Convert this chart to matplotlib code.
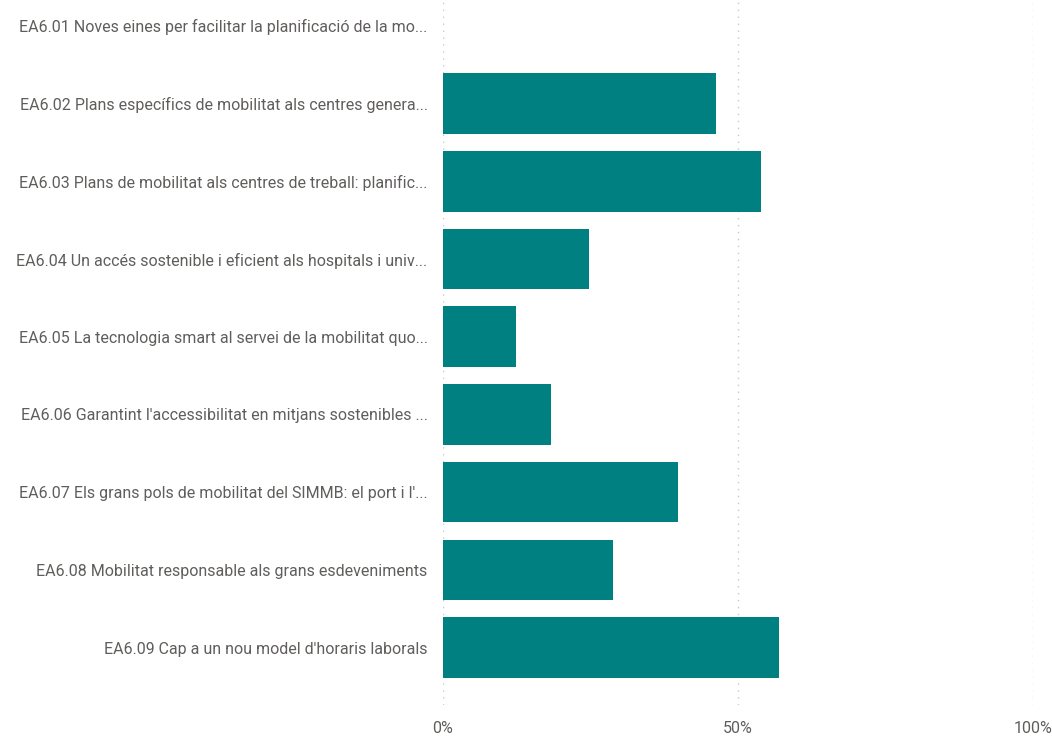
import matplotlib.pyplot as plt
from matplotlib.ticker import FuncFormatter

# Dades
etiquetes = [
    "EA6.01 Noves eines per facilitar la planificació de la mo...",
    "EA6.02 Plans específics de mobilitat als centres genera...",
    "EA6.03 Plans de mobilitat als centres de treball: planific...",
    "EA6.04 Un accés sostenible i eficient als hospitals i univ...",
    "EA6.05 La tecnologia smart al servei de la mobilitat quo...",
    "EA6.06 Garantint l'accessibilitat en mitjans sostenibles ...",
    "EA6.07 Els grans pols de mobilitat del SIMMB: el port i l'...",
    "EA6.08 Mobilitat responsable als grans esdeveniments",
    "EA6.09 Cap a un nou model d'horaris laborals",
]
valors = [0.0, 46.2, 53.9, 24.7, 12.4, 18.4, 39.8, 28.9, 56.9]
xticks = [0, 50, 100]

color_barra = "#008080"
color_text = "#605E5C"

plt.rcParams['font.family'] = ['Roboto', 'DejaVu Sans']

fig = plt.figure(figsize=(10.52, 7.38), dpi=100)
ax = fig.add_axes([0.421, 0.045, 0.561, 0.955])

pos = list(range(len(etiquetes)))
ax.barh(pos, valors, height=0.78, color=color_barra, zorder=3)

ax.set_xlim(0, 100)
ax.set_ylim(8.736, -0.334)
ax.set_xticks(xticks)
ax.xaxis.set_major_formatter(FuncFormatter(lambda v, p: f"{v:.0f}%"))
ax.set_yticks(pos)
ax.set_yticklabels(etiquetes)

ax.grid(axis='x', linestyle=(0, (1, 4)), color="#C8C8C8", linewidth=1, zorder=0)
for s in ax.spines.values():
    s.set_visible(False)
ax.tick_params(axis='both', length=0, colors=color_text, labelsize=11.5)
ax.tick_params(axis='y', pad=11)
ax.tick_params(axis='x', pad=12)

fig.savefig("out.png", dpi=100)
